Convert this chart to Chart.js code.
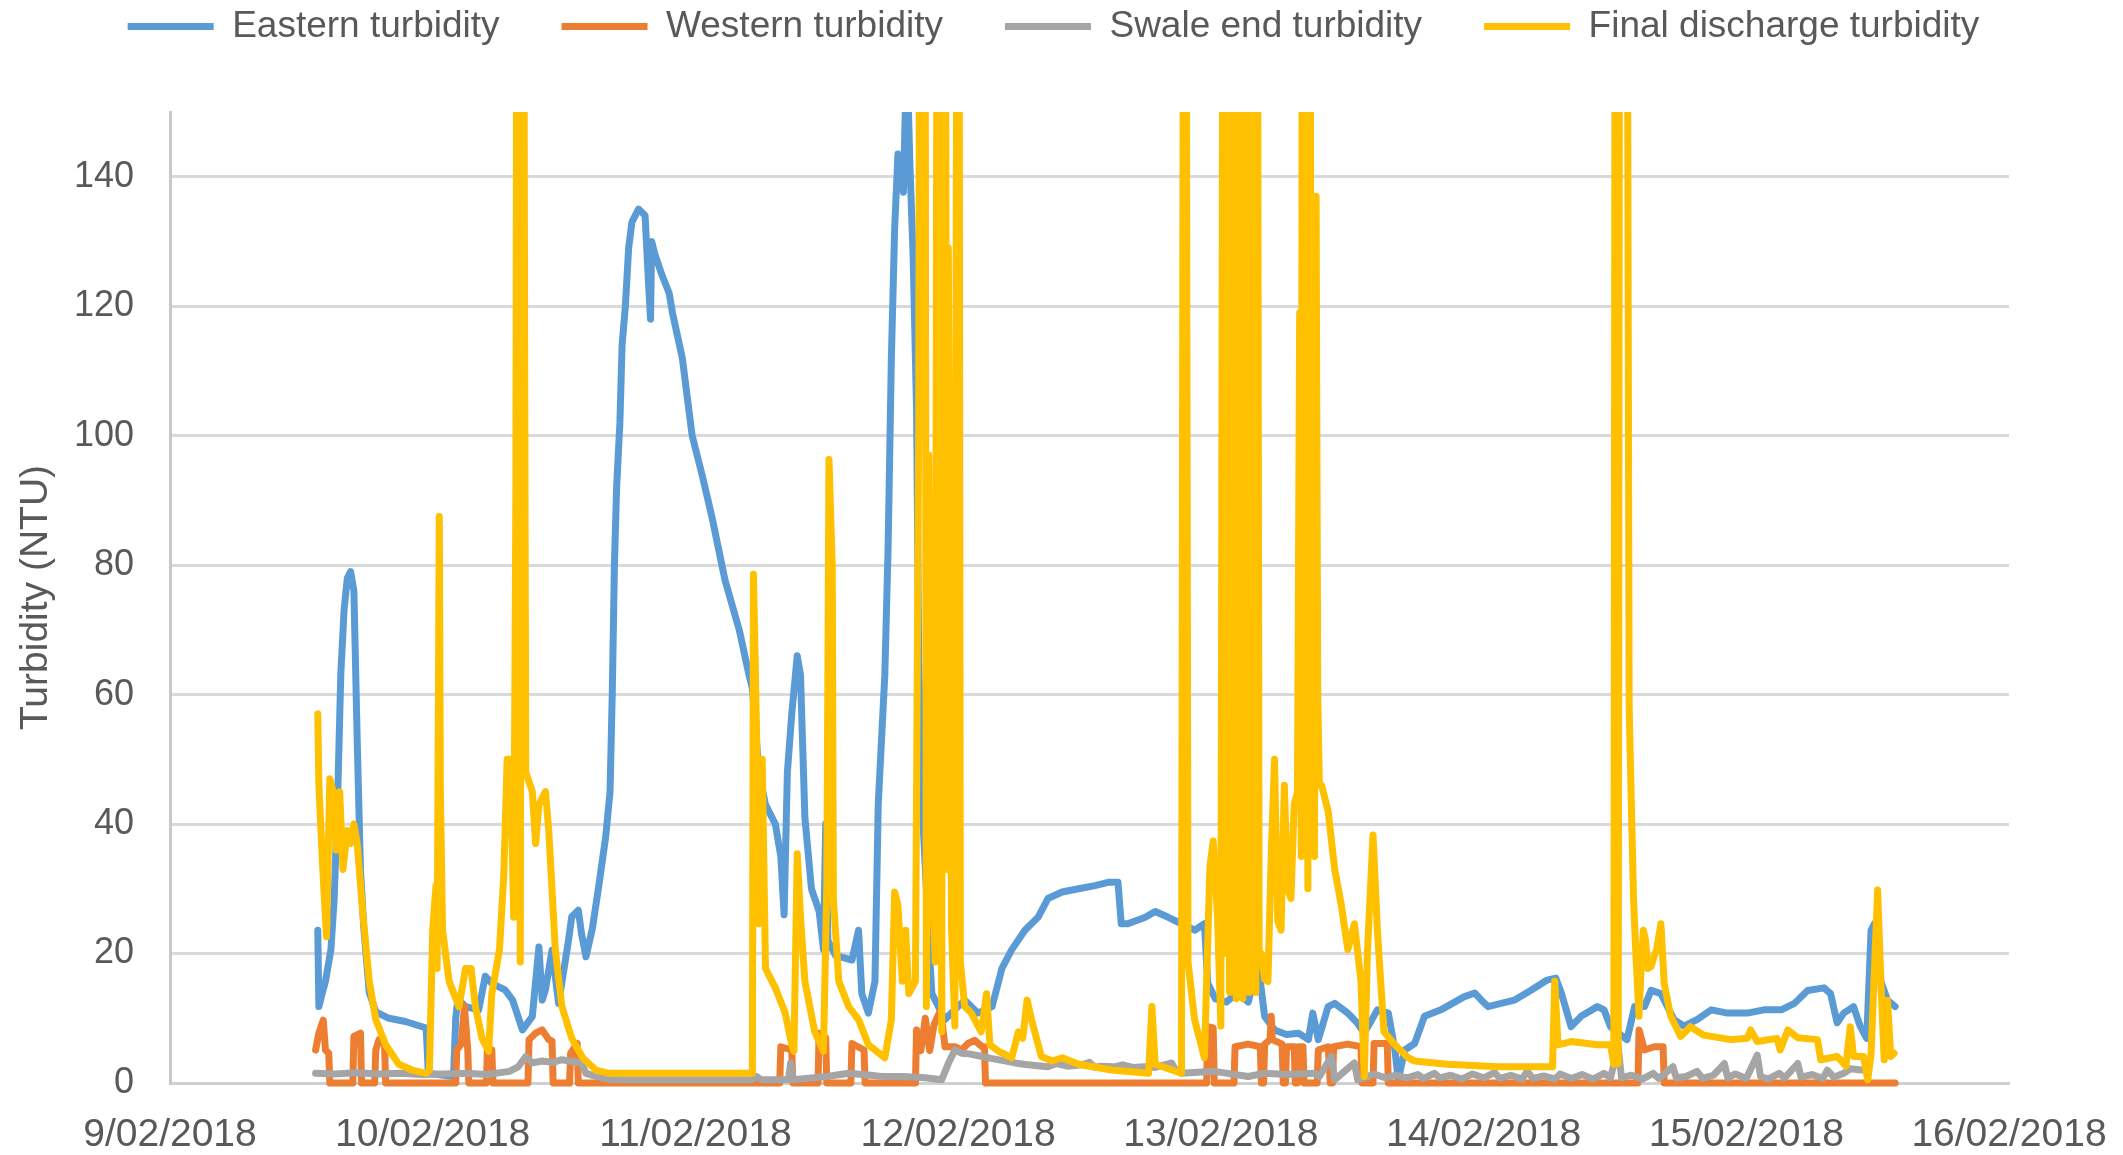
<!DOCTYPE html>
<html>
<head>
<meta charset="utf-8">
<style>html,body{margin:0;padding:0;background:#fff;overflow:hidden}</style>
<script src="https://cdn.jsdelivr.net/npm/chart.js@4.4.1/dist/chart.umd.min.js"></script>
</head>
<body>
<canvas id="c" width="2123" height="1155" style="display:block;width:2123px;height:1155px"></canvas>
<script>
// x values are hours after 9/02/2018 00:00
const dateLabels = ['9/02/2018','10/02/2018','11/02/2018','12/02/2018','13/02/2018','14/02/2018','15/02/2018','16/02/2018'];
const seriesNames = ['Eastern turbidity','Western turbidity','Swale end turbidity','Final discharge turbidity'];
const seriesColors = ['#5B9BD5','#ED7D31','#A5A5A5','#FFC000'];

const eastern = [[13.5,23.6],[13.6,11.8],[13.9,13.8],[14.2,15.7],[14.7,20.6],[15.0,28.5],[15.3,43],[15.6,63],[15.9,73],[16.2,78],[16.5,79],[16.8,76],[17.1,53],[17.4,33],[17.7,24],[18.2,14],[18.8,11],[20.0,10],[21.5,9.5],[23.4,8.5],[23.6,1.5],[25.9,1],[26.1,10],[26.3,13],[27.0,11.8],[28.2,11.3],[28.8,16.5],[29.4,15.4],[30.6,14.4],[31.3,12.8],[32.2,8.2],[33.1,10.3],[33.7,21],[34.0,12.8],[34.3,14.4],[34.9,20.5],[35.5,12.3],[36.4,22],[36.7,25.7],[37.3,26.7],[37.6,23],[38.0,19.5],[38.6,24],[39.2,30.8],[39.8,38],[40.2,45],[40.4,60],[40.6,80],[40.8,92],[41.1,102],[41.3,114],[41.6,120],[41.9,129],[42.2,133],[42.8,135],[43.4,134],[43.7,124],[43.9,118],[44.0,130],[44.3,128],[44.9,125],[45.6,122],[45.9,119],[46.8,112],[47.7,100],[48.6,94],[49.5,87.5],[50.7,77.7],[52.0,70],[52.9,63],[53.2,61],[53.8,48],[54.4,43],[55.3,40],[55.8,35],[56.1,26],[56.4,48],[56.8,57],[57.3,66],[57.6,63],[58.0,41],[58.6,30],[59.3,26.5],[59.7,20.6],[59.9,40],[60.1,22],[60.8,19.7],[62.3,19],[62.9,23.6],[63.2,13.8],[63.8,10.8],[64.4,15.7],[64.7,43],[65.3,63],[65.6,82.6],[65.9,112],[66.2,132],[66.5,143.5],[67.0,137.6],[67.3,160],[67.6,141.6],[67.9,127],[68.2,104],[68.4,65],[68.8,40],[69.4,19.7],[69.6,13.8],[70.8,9.8],[71.5,11],[72.6,12.8],[73.8,10.8],[75.1,11.8],[76.0,17.7],[76.9,20.6],[78.1,23.6],[79.3,25.6],[80.2,28.5],[81.5,29.5],[83.0,30],[84.5,30.5],[85.7,31],[86.6,31],[86.9,24.6],[87.5,24.6],[89.1,25.6],[90.0,26.5],[91.2,25.6],[92.4,24.6],[93.6,23.6],[94.5,24.6],[94.8,15.4],[95.5,13],[96.5,12.5],[97.5,14],[98.5,12.5],[99.4,18.5],[100.0,10.3],[100.9,8.2],[102.0,7.5],[103.1,7.7],[104.0,6.7],[104.4,10.8],[104.9,6.7],[105.8,11.8],[106.4,12.3],[107.6,10.8],[108.5,9.2],[109.1,7.7],[110.3,11.3],[111.3,10.8],[111.9,5.1],[112.2,0.5],[112.8,5.1],[113.7,6.1],[114.6,10.3],[116.1,11.3],[118.2,13.3],[119.2,13.9],[119.8,12.8],[120.4,11.8],[122.8,12.8],[124.3,14.3],[125.8,15.9],[126.6,16.2],[127.1,13.9],[128.0,8.7],[128.9,10.3],[130.4,11.8],[131.0,11.3],[131.6,8.7],[133.1,6.7],[133.8,11.8],[134.7,11.8],[135.3,14.3],[136.2,13.8],[136.5,12.8],[137.4,9.8],[138.3,8.8],[139.5,9.8],[140.8,11.3],[142.3,10.8],[144.1,10.8],[145.6,11.3],[147.2,11.3],[148.4,12.3],[149.6,14.3],[151.1,14.7],[151.7,13.8],[152.3,9.3],[152.9,10.8],[153.8,11.8],[154.4,8.8],[155.0,6.9],[155.4,23.6],[155.7,24.6],[156.3,15.7],[156.9,12.8],[157.6,11.8]];

const western = [[13.3,5.1],[13.6,7.7],[14.0,9.7],[14.2,5.1],[14.5,4.6],[14.6,0],[16.7,0],[16.8,7.2],[17.4,7.7],[17.5,0],[18.7,0],[18.8,5.1],[19.1,6.7],[19.6,6],[19.7,0],[26.1,0],[26.2,5.1],[26.6,6],[26.9,11.8],[27.2,5.1],[27.3,0],[28.9,0],[29.0,5.1],[29.4,5.1],[29.5,0],[32.7,0],[32.8,6.7],[33.4,7.7],[34.0,8.2],[34.6,6.7],[34.9,6.5],[35.0,0],[36.5,0],[36.6,4.6],[37.2,6.1],[37.3,0],[55.7,0],[55.8,5.6],[56.8,5.1],[56.9,0],[59.2,0],[59.3,7.7],[59.9,7],[60.0,0],[62.2,0],[62.3,6.1],[63.4,5.1],[63.5,0],[68.1,0],[68.2,8.2],[68.6,5],[69.0,10],[69.4,5],[69.8,9],[70.4,11.3],[70.8,5.6],[71.7,5.6],[72.3,5.1],[72.9,6.1],[73.5,6.6],[74.2,5.6],[74.4,5.6],[74.5,0],[94.7,0],[94.8,8.7],[95.3,8.5],[95.4,0],[97.2,0],[97.3,5.6],[98.5,6],[99.6,5.6],[99.7,0],[99.9,0],[100.0,6],[100.5,6.7],[100.6,10.3],[100.7,6.7],[101.6,6],[101.7,0],[101.9,0],[102.0,5.6],[102.7,5.6],[102.8,0],[103.0,0],[103.1,5.6],[103.5,5.6],[103.6,0],[104.8,0],[104.9,5.1],[105.8,5.6],[106.0,0],[106.2,0],[106.3,5.6],[107.6,6],[108.8,5.6],[108.9,0],[109.9,0],[110.0,6.1],[111.2,6.1],[111.3,0],[134.1,0],[134.2,8.2],[134.7,5.1],[135.6,5.6],[136.4,5.6],[136.5,0],[157.6,0]];

const swale = [[13.3,1.5],[15,1.4],[17,1.6],[19,1.4],[21,1.5],[23,1.3],[25,1.4],[27,1.5],[29,1.3],[31,1.8],[31.8,2.5],[32.5,4.1],[33.1,3.1],[34,3.4],[35,3.2],[35.8,3.6],[37.6,3.1],[38.0,1.5],[39,1],[40.4,0.5],[45,0.5],[50,0.5],[53.2,0.5],[53.6,1],[54,0.5],[56.5,0.5],[56.7,3.1],[56.9,0.5],[60,1],[62,1.5],[64,1.2],[65,1],[67,1],[69,0.8],[70.5,0.5],[71.1,3],[71.7,5.1],[72.3,4.6],[73,4.5],[74.2,4.1],[75,3.8],[76,3.5],[77.2,3.1],[78,2.9],[79,2.7],[80.2,2.5],[81,3],[82,2.6],[83.3,2.8],[84,3.2],[84.5,2.4],[85,2.6],[86.3,2.5],[87,2.8],[88,2.4],[89,2.5],[90,2.4],[91.5,3.1],[91.8,2.2],[92.4,1.5],[95.4,1.8],[98.5,1],[100,1.5],[102,1.3],[104.6,1.5],[105,1],[106.1,4.1],[106.4,0.5],[108.2,3.1],[108.5,0.5],[109.4,1],[110,1.4],[111,0.8],[112,1.2],[113,0.8],[114,1.3],[114.5,0.7],[115.5,1.5],[116,0.8],[117,1.2],[118,0.6],[119,1.4],[120,0.8],[121,1.6],[121.5,0.7],[122.5,1.2],[123.5,0.6],[124,1.8],[124.5,0.7],[125.5,1.1],[126.5,0.6],[127,1.4],[128,0.7],[129,1.3],[130,0.6],[131,1.5],[131.6,0.8],[132.3,5.6],[132.6,0.8],[133.5,1.2],[134.5,0.6],[135.5,1.5],[136,0.7],[137.3,2.5],[137.6,0.8],[138.5,1],[139.5,1.8],[140,0.7],[141,1.2],[142,3],[142.3,0.8],[143,1.4],[144,0.7],[145,4.3],[145.3,1],[146,0.6],[147,1.5],[147.5,0.8],[148.7,3],[149,0.9],[150,1.3],[151,0.7],[151.4,2],[152,0.9],[152.9,1.5],[153.5,2.2],[154.5,2]];

const finalDischarge = [[13.5,57],[13.6,46],[13.9,35],[14.1,28.5],[14.3,22.6],[14.6,47],[14.9,45],[15.2,36],[15.5,45],[15.8,33],[16.2,39],[16.5,37],[16.8,40],[17.1,37],[17.6,26.5],[18.2,15.7],[18.8,9.8],[19.7,5.9],[20.9,2.9],[22.1,2],[23.4,1.5],[23.7,2],[24.0,23.6],[24.3,30.5],[24.4,17.7],[24.6,87.5],[24.7,45],[24.9,23.6],[25.5,15.7],[26.4,11.8],[27.0,17.7],[27.5,17.7],[27.9,11.8],[28.5,6.9],[29.1,4.9],[29.4,13.8],[30.1,20.6],[30.5,32.4],[30.8,50],[31.1,50],[31.4,25.6],[31.6,92],[31.8,300],[32.0,18.7],[32.2,300],[32.4,112],[32.5,48],[33.1,45],[33.4,37],[33.7,43],[34.3,45],[34.6,39],[35.2,20.6],[35.8,11.8],[36.7,6.9],[37.7,3.9],[38.9,2],[40.1,1.5],[45.6,1.5],[53.2,1.5],[53.3,78.6],[53.6,53],[53.8,24.6],[54.1,50],[54.4,17.7],[55.3,14.7],[56.2,10.8],[56.8,5.9],[57.0,4.9],[57.3,35.4],[57.6,25.6],[58.0,15.7],[58.9,7.9],[59.7,4.9],[60.0,30.5],[60.2,96.3],[60.5,79.6],[60.6,28.5],[61.1,15.7],[62.0,11.8],[62.9,9.8],[63.8,5.9],[65.3,3.9],[65.9,9.8],[66.2,29.5],[66.5,27.5],[66.9,15.7],[67.2,23.6],[67.5,13.8],[68.1,15.7],[68.4,102],[68.6,300],[68.9,300],[69.1,11.8],[69.3,97],[69.6,33.4],[69.9,18.7],[70.2,300],[70.5,7.9],[70.7,300],[71.0,33],[71.1,129],[71.4,23.6],[71.7,8.8],[72.0,300],[72.2,18.7],[72.6,11.8],[73.2,10.8],[74.1,7.9],[74.6,13.8],[74.9,5.9],[75.7,4.9],[76.9,3.9],[77.5,7.9],[77.9,6.9],[78.3,12.8],[78.7,9.8],[79.6,4.1],[80.6,3.4],[81.5,3.9],[83.0,2.9],[86.0,2],[89.4,1.5],[89.7,11.8],[90.0,2.9],[92.4,1.5],[92.7,300],[93.0,18.7],[93.6,9.8],[94.5,3.9],[95.0,33.4],[95.3,37.4],[95.7,25.6],[96.0,8.8],[96.3,300],[96.5,20],[96.65,250],[96.8,14],[96.95,300],[97.1,18],[97.25,300],[97.4,13],[97.55,300],[97.7,15],[97.85,131],[98.0,13],[98.15,300],[98.3,20],[98.45,300],[98.6,14],[98.75,250],[98.9,16],[99.05,300],[99.2,14],[99.35,180],[99.5,18.7],[99.7,20],[100.0,16],[100.3,15.7],[100.6,35],[100.9,50],[101.2,25],[101.5,23.6],[101.8,46],[102.1,30],[102.4,28.5],[102.7,43],[103.0,45],[103.2,119],[103.35,35],[103.5,300],[103.65,40],[103.8,125],[103.95,30],[104.1,300],[104.25,45],[104.4,136.6],[104.55,35],[104.7,137],[104.85,60],[105.0,46],[105.2,46],[105.8,42],[106.4,33],[107.0,27.5],[107.6,20.6],[108.2,24.6],[108.8,15.7],[109.1,1],[109.4,20.6],[109.9,38.3],[110.3,23.6],[110.9,7.9],[111.9,5.9],[113.1,3.9],[113.7,3.4],[116.7,2.9],[121.3,2.5],[126.3,2.5],[126.5,15.7],[126.8,5.9],[128.0,6.4],[130.4,5.9],[131.6,5.9],[131.9,2.9],[132.1,300],[132.3,3],[132.5,300],[132.7,250],[132.9,300],[133.1,200],[133.3,58],[133.5,43],[133.7,28.5],[133.9,20.5],[134.2,10.3],[134.4,18],[134.6,23.6],[134.8,22],[135.0,17.7],[135.3,18],[135.6,19.7],[135.8,20.5],[136.2,24.6],[136.5,15.4],[137.1,10.3],[138.0,7.2],[138.9,8.7],[140.1,7.4],[142.6,6.7],[144.1,6.9],[144.4,8.2],[145.0,6.4],[146.8,6.9],[147.1,5.1],[147.8,8.2],[148.7,7.0],[150.5,6.7],[150.8,3.6],[152.3,4.1],[153.1,2.6],[153.5,8.7],[153.8,4.1],[154.7,4.1],[155.1,0.5],[155.4,4.6],[156.0,29.8],[156.3,15.4],[156.6,3.6],[156.9,12.8],[157.2,4.1],[157.5,4.6]];

const yTickStep = 20;
const yMax = 150;

Chart.defaults.font.family = "'Liberation Sans', Arial, sans-serif";
Chart.defaults.color = '#595959';

const seriesData = [eastern, western, swale, finalDischarge];
const datasets = seriesData.map((arr, i) => ({
  label: seriesNames[i],
  data: arr.map(p => ({x: p[0], y: p[1]})),
  borderColor: seriesColors[i],
  backgroundColor: seriesColors[i],
  borderWidth: 7,
  pointRadius: 0,
  tension: 0,
  borderJoinStyle: 'round',
  borderCapStyle: 'round',
  order: 4 - i,
  clip: {left: 4, right: 4, top: 0, bottom: 4}
}));

// place the legend row across the full canvas width, near the top edge
const legendPlacer = {
  id: 'legendPlacer',
  afterLayout(chart) {
    const lg = chart.legend;
    if (!lg) return;
    const dy = -57;
    lg.top += dy; lg.bottom += dy;
    lg.left = -8; lg.right = chart.width - 8; lg.width = chart.width;
  }
};

new Chart(document.getElementById('c'), {
  type: 'line',
  data: {datasets},
  plugins: [legendPlacer],
  options: {
    responsive: false,
    animation: false,
    devicePixelRatio: 1,
    layout: {padding: {top: 0, left: 0, right: 114, bottom: 0}},
    plugins: {
      tooltip: {enabled: false},
      legend: {
        position: 'top',
        labels: {
          usePointStyle: true,
          pointStyle: 'line',
          pointStyleWidth: 86,
          padding: 62,
          font: {size: 37},
          color: '#595959',
          sort: (a, b) => a.datasetIndex - b.datasetIndex
        }
      }
    },
    scales: {
      x: {
        type: 'linear',
        min: 0,
        max: 168,
        ticks: {
          stepSize: 24,
          autoSkip: false,
          maxRotation: 0,
          padding: 29,
          font: {size: 39},
          color: '#595959',
          callback: (v) => dateLabels[Math.round(v / 24)]
        },
        grid: {display: false, drawTicks: false},
        border: {display: true, color: '#d0d0d0', width: 3},
        afterFit(s) { s.height = 72; s.paddingLeft = 0; s.paddingRight = 0; }
      },
      y: {
        min: 0,
        max: yMax,
        ticks: {stepSize: yTickStep, includeBounds: false, padding: 36, font: {size: 36}, color: '#595959'},
        grid: {color: '#d9d9d9', lineWidth: 3, drawTicks: false},
        border: {display: true, color: '#c8c8c8', width: 3},
        title: {display: true, text: 'Turbidity (NTU)', font: {size: 39}, color: '#595959', padding: {top: 13, bottom: 0}},
        afterFit(s) { s.width = 170; s.paddingTop = 112; s.paddingBottom = 0; }
      }
    }
  }
});
</script>
</body>
</html>
